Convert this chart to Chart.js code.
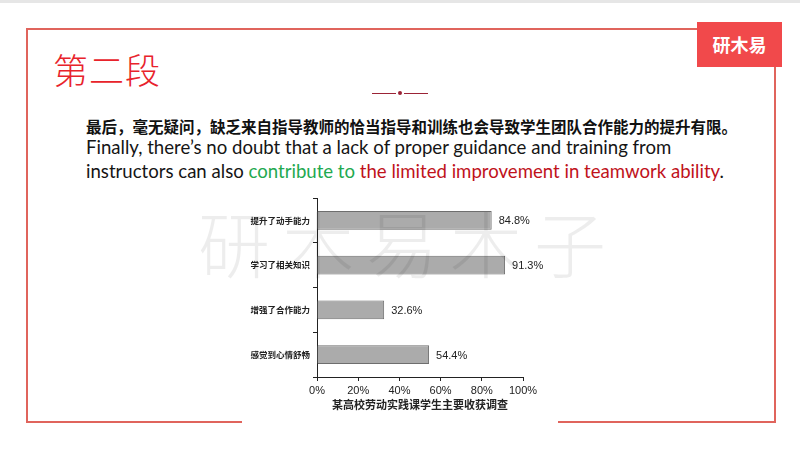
<!DOCTYPE html>
<html lang="zh">
<head>
<meta charset="UTF-8">
<title>第二段</title>
<script src="https://cdn.jsdelivr.net/npm/chart.js"></script>
<style>
    body {
        margin: 0;
        width: 800px;
        height: 450px;
        background: #ffffff;
        position: relative;
        overflow: hidden;
        font-family: "Noto Sans CJK SC", sans-serif;
    }
    .topline {
        position: absolute; left: 0; top: 0; width: 800px; height: 3px; background: #e6e6e6;
    }
    .frame {
        position: absolute;
        left: 26px; top: 28px;
        width: 746px; height: 391px;
        border: 2px solid #e0645c;
    }
    .logo {
        position: absolute;
        left: 697px; top: 22px;
        width: 85px; height: 45px;
        background: #f1494b;
        color: #fff;
        font-size: 18px;
        font-weight: bold;
        line-height: 45px;
        text-align: center;
    }
    .title {
        position: absolute;
        left: 53px; top: 43px;
        font-size: 35px;
        font-weight: 300;
        color: #e8232b;
        letter-spacing: 1px;
    }
    .divider {
        position: absolute;
        left: 372px; top: 92px;
        width: 56px; height: 3px;
    }
    .divider span {
        position: absolute; top: 1px; height: 1px; width: 24px; background: #9b2336;
    }
    .divider i {
        position: absolute; left: 26px; top: -1px; width: 4px; height: 4px; border-radius: 2px; background: #9b2336;
    }
    .zh {
        position: absolute;
        left: 86px; top: 115px;
        font-size: 15.5px;
        font-weight: bold;
        color: #111;
        white-space: nowrap;
    }
    .en {
        position: absolute;
        left: 86px; top: 135px;
        font-family: Lato, sans-serif;
        font-size: 18.6px;
        line-height: 24px;
        color: #151515;
        white-space: nowrap;
    }
    .green { color: #22a94f; }
    .red { color: #c0121b; }
    #chartBox {
        position: absolute;
        left: 242px; top: 190px;
        width: 316px; height: 240px;
        background: #ffffff;
    }
    .watermark {
        position: absolute;
        left: 198px; top: 188px;
        font-size: 72px;
        font-weight: 200;
        letter-spacing: 12px;
        color: rgba(0, 0, 0, 0.07);
        white-space: nowrap;
    }
</style>
</head>
<body>
    <div class="topline"></div>
    <div class="frame"></div>
    <div class="logo">研木易</div>
    <div class="title">第二段</div>
    <div class="divider"><span style="left:0"></span><i></i><span style="left:32px"></span></div>
    <div class="zh">最后，毫无疑问，缺乏来自指导教师的恰当指导和训练也会导致学生团队合作能力的提升有限。</div>
    <div class="en">Finally, there’s no doubt that a lack of proper guidance and training from<br>instructors can also <span class="green">contribute to</span> <span class="red">the limited improvement in teamwork ability</span>.</div>
    <canvas id="chartBox" width="316" height="240"></canvas>
    <div class="watermark">研木易木子</div>
<script>
    // survey data
    const categories = ['提升了动手能力', '学习了相关知识', '增强了合作能力', '感觉到心情舒畅'];
    const values = [84.8, 91.3, 32.6, 54.4];
    const xTicks = [0, 20, 40, 60, 80, 100];
    const axisTitle = '某高校劳动实践课学生主要收获调查';

    // value labels at the end of each bar
    const barLabels = {
        id: 'barLabels',
        afterDatasetsDraw(chart) {
            const ctx = chart.ctx;
            const meta = chart.getDatasetMeta(0);
            ctx.save();
            ctx.font = '11px "Liberation Sans", Arial, sans-serif';
            ctx.fillStyle = '#222';
            ctx.textBaseline = 'middle';
            meta.data.forEach((bar, i) => {
                ctx.fillText(values[i].toFixed(1) + '%', bar.x + 7, bar.y + 1);
            });
            ctx.restore();
        }
    };

    new Chart(document.getElementById('chartBox'), {
        type: 'bar',
        data: {
            labels: categories,
            datasets: [{
                data: values,
                backgroundColor: '#ababab',
                borderColor: '#6e6e6e',
                borderWidth: 1,
                barPercentage: 0.42,
                categoryPercentage: 1
            }]
        },
        options: {
            indexAxis: 'y',
            responsive: false,
            animation: false,
            layout: { padding: { left: 0, right: 35, top: 7, bottom: 10 } },
            plugins: {
                legend: { display: false },
                tooltip: { enabled: false }
            },
            scales: {
                x: {
                    min: xTicks[0],
                    max: xTicks[xTicks.length - 1],
                    afterBuildTicks: (scale) => { scale.ticks = xTicks.map(v => ({ value: v })); },
                    afterFit: (scale) => { scale.height = 43; },
                    border: { display: true, color: '#222', width: 1 },
                    grid: { drawOnChartArea: false, color: '#222', tickLength: 4 },
                    ticks: {
                        padding: 3,
                        color: '#222',
                        font: { family: '"Liberation Sans", Arial, sans-serif', size: 11 },
                        callback: (v) => v + '%'
                    },
                    title: {
                        display: true,
                        text: axisTitle,
                        color: '#222',
                        padding: { top: 0, bottom: 9 },
                        font: { family: '"Noto Sans CJK SC", sans-serif', size: 11, weight: 'bold' }
                    }
                },
                y: {
                    afterFit: (scale) => { scale.width = 75; },
                    border: { display: true, color: '#222', width: 1 },
                    grid: { drawOnChartArea: false, color: '#222', tickLength: 4 },
                    ticks: {
                        padding: 3,
                        color: '#222',
                        font: { family: '"Noto Sans CJK SC", sans-serif', size: 8.5, weight: 'bold' }
                    }
                }
            }
        },
        plugins: [barLabels]
    });
</script>
</body>
</html>
